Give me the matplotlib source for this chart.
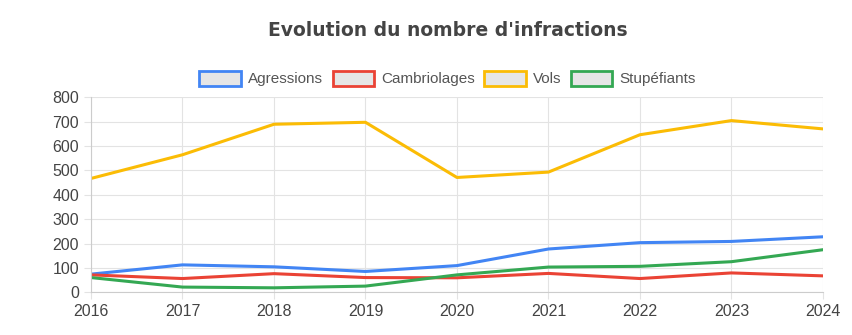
import matplotlib.pyplot as plt
from matplotlib.patches import Patch

# Données
annees = [2016, 2017, 2018, 2019, 2020, 2021, 2022, 2023, 2024]
agressions = [75, 113, 105, 86, 110, 178, 204, 209, 228]
cambriolages = [72, 57, 77, 61, 60, 78, 57, 80, 68]
vols = [467, 564, 689, 697, 471, 493, 646, 704, 670]
stupefiants = [61, 22, 19, 26, 72, 104, 107, 126, 175]

series = [
    ('Agressions', agressions, '#4285F4'),
    ('Cambriolages', cambriolages, '#EA4335'),
    ('Vols', vols, '#FBBC05'),
    ('Stupéfiants', stupefiants, '#34A853'),
]

plt.rcParams['font.family'] = ['Liberation Sans', 'DejaVu Sans']

fig = plt.figure(figsize=(8.53, 3.35), dpi=100)
ax = fig.add_axes([0.1067, 0.127, 0.858, 0.583])

for nom, valeurs, couleur in series:
    ax.plot(annees, valeurs, color=couleur, linewidth=2.2, label=nom)

ax.set_xlim(2016, 2024)
ax.set_ylim(0, 800)
ax.set_xticks(annees)
ax.set_yticks(range(0, 801, 100))
ax.grid(True, color='#e3e3e3', linewidth=0.8)
ax.set_axisbelow(True)
for s in ['top', 'right']:
    ax.spines[s].set_visible(False)
for s in ['left', 'bottom']:
    ax.spines[s].set_color('#cccccc')
ax.tick_params(colors='#e3e3e3', labelcolor='#444444', labelsize=11.5, length=5)

# Légende
handles = [Patch(facecolor='#e6e6e6', edgecolor=c, linewidth=2, label=n)
           for n, _, c in series]
fig.legend(handles=handles, loc='center', bbox_to_anchor=(0.525, 0.765), ncol=4,
           frameon=False, fontsize=11, handlelength=2.7, handleheight=1.1,
           handletextpad=0.5, columnspacing=0.6, labelcolor='#555555')

fig.text(0.525, 0.91, "Evolution du nombre d'infractions", ha='center', va='center',
         fontsize=13.5, fontweight='bold', color='#444444', family='DejaVu Sans')

fig.savefig('out.png', dpi=100, facecolor='white')
